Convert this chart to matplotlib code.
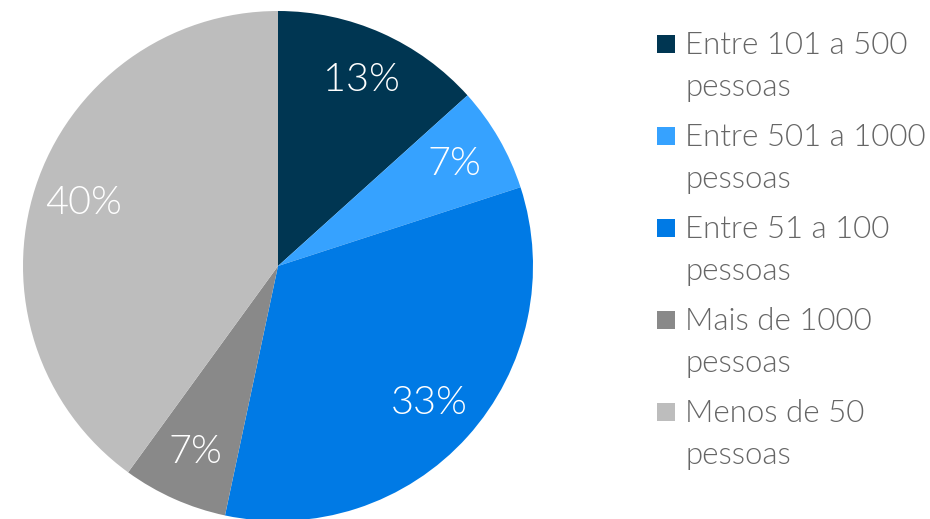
import matplotlib.pyplot as plt
from matplotlib import font_manager
from matplotlib.patches import Rectangle

# Company size survey: number of respondents per size bracket
categories = ["Entre 101 a 500\npessoas", "Entre 501 a 1000\npessoas",
              "Entre 51 a 100\npessoas", "Mais de 1000\npessoas",
              "Menos de 50\npessoas"]
counts = [2, 1, 5, 1, 6]
colors = ["#003652", "#36a2ff", "#007ae5", "#898989", "#bdbdbd"]

# pick the Lato Light face by file so no other weight sneaks in
light_path = next(f.fname for f in font_manager.fontManager.ttflist
                  if f.fname.endswith("Lato-Light.ttf"))
pct_font = font_manager.FontProperties(fname=light_path, size=28.5)
leg_font = font_manager.FontProperties(fname=light_path, size=22.5)

fig = plt.figure(figsize=(9.3, 5.19), dpi=100)
ax = fig.add_axes([23 / 930, -2 / 519, 510 / 930, 510 / 519])

wedges, texts, autotexts = ax.pie(
    counts, colors=colors, startangle=90, counterclock=False,
    autopct='%.0f%%', pctdistance=0.8, radius=1,
    wedgeprops=dict(linewidth=0),
    textprops=dict(color="white", fontproperties=pct_font))
ax.set_xlim(-1, 1)
ax.set_ylim(-1, 1)

# legend: square swatch level with the first line of each label
W, H = 930, 519
for i, (w, label) in enumerate(zip(wedges, categories)):
    top = 35 + 92 * i
    fig.patches.append(Rectangle((657 / W, 1 - (top + 18) / H), 18 / W, 18 / H,
                                 transform=fig.transFigure,
                                 facecolor=w.get_facecolor(), edgecolor="none"))
    fig.text(685 / W, 1 - (top - 4) / H, label, ha="left", va="top",
             color="#666666", fontproperties=leg_font, linespacing=1.58)

fig.savefig("out.png", dpi=100)
